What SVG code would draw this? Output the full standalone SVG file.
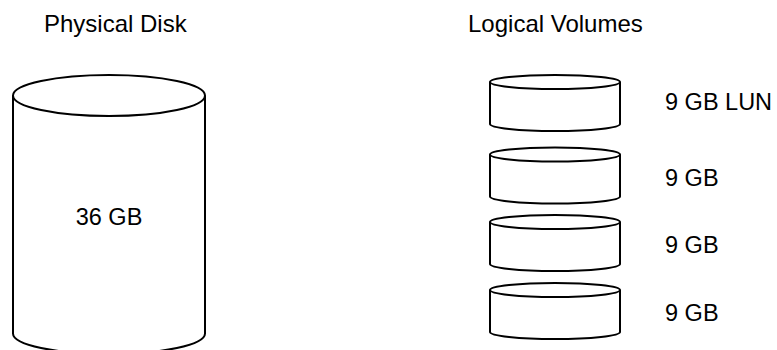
<svg xmlns="http://www.w3.org/2000/svg" width="777" height="350" viewBox="0 0 777 350">
  <style>
    .cyl { fill: #ffffff; stroke: #000000; stroke-width: 2; }
    .lbl { font-family: "Liberation Sans", Arial, sans-serif; font-size: 23.5px; fill: #000000; }
    .head { font-size: 24px; }
  </style>
  <rect width="777" height="350" fill="#ffffff"/>

  <!-- Column headings -->
  <text class="lbl head" x="44" y="32">Physical Disk</text>
  <text class="lbl head" x="468" y="32">Logical Volumes</text>

  <!-- Physical disk: one tall cylinder -->
  <g id="physical-disk">
    <path class="cyl" d="M13,95.5 L13,333.5 A96,20.5 0 0 0 205,333.5 L205,95.5"/>
    <ellipse class="cyl" cx="109" cy="95.5" rx="96" ry="20.5"/>
    <text class="lbl" x="109" y="225" text-anchor="middle">36 GB</text>
  </g>

  <!-- Logical volumes: four short cylinders -->
  <g id="volume-1">
    <path class="cyl" d="M490,82 L490,124 A65,7 0 0 0 620,124 L620,82"/>
    <ellipse class="cyl" cx="555" cy="82" rx="65" ry="7"/>
    <text class="lbl" x="665" y="110">9 GB LUN</text>
  </g>
  <g id="volume-2">
    <path class="cyl" d="M490,154.5 L490,196.5 A65,7 0 0 0 620,196.5 L620,154.5"/>
    <ellipse class="cyl" cx="555" cy="154.5" rx="65" ry="7"/>
    <text class="lbl" x="665" y="186">9 GB</text>
  </g>
  <g id="volume-3">
    <path class="cyl" d="M490,222 L490,264 A65,7 0 0 0 620,264 L620,222"/>
    <ellipse class="cyl" cx="555" cy="222" rx="65" ry="7"/>
    <text class="lbl" x="665" y="253">9 GB</text>
  </g>
  <g id="volume-4">
    <path class="cyl" d="M490,290 L490,332 A65,7 0 0 0 620,332 L620,290"/>
    <ellipse class="cyl" cx="555" cy="290" rx="65" ry="7"/>
    <text class="lbl" x="665" y="321">9 GB</text>
  </g>
</svg>
